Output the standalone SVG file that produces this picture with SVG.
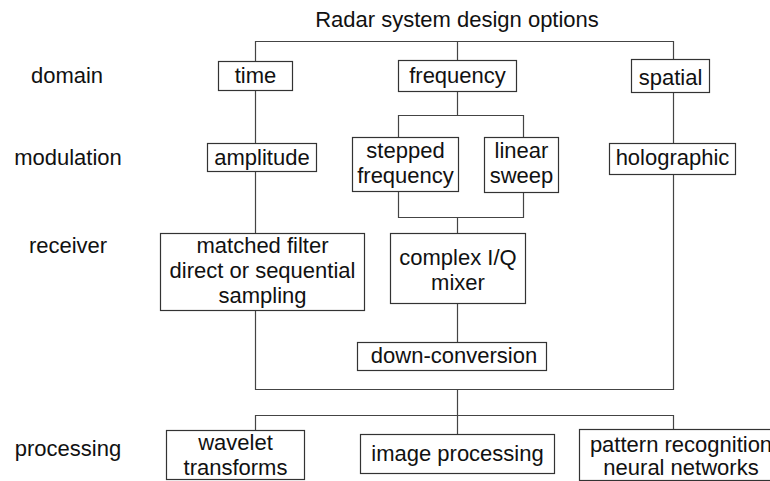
<svg xmlns="http://www.w3.org/2000/svg" width="770" height="481" viewBox="0 0 770 481">
<style>
text{font-family:"Liberation Sans",Arial,sans-serif;font-size:22px;fill:#111;text-anchor:middle}
.box rect{fill:#fff;stroke:#333;stroke-width:1.2}
#connectors path{fill:none;stroke:#444;stroke-width:1.2}
</style>
<rect width="770" height="481" fill="#fff"/>
<g id="connectors">
<path d="M255.5,61 V41.5 H673.5 V59"/>
<path d="M457.5,41.5 V60"/>
<path d="M255.5,90 V143"/>
<path d="M255.5,171 V233"/>
<path d="M255.5,310 V389.5 H673.5 V174"/>
<path d="M673.5,92 V143"/>
<path d="M457.5,91 V115.5"/>
<path d="M398.5,137 V115.5 H523.5 V137"/>
<path d="M398.5,191 V217.5 H523.5 V192"/>
<path d="M457.5,217.5 V233"/>
<path d="M457.5,303 V342"/>
<path d="M457.5,389.5 V434"/>
<path d="M255.5,430 V415.5 H673.5 V429"/>
</g>
<g id="title"><text x="457" y="27">Radar system design options</text></g>
<g id="label-domain"><text x="67" y="83">domain</text></g>
<g id="label-modulation"><text x="68" y="165">modulation</text></g>
<g id="label-receiver"><text x="68" y="253">receiver</text></g>
<g id="label-processing"><text x="68" y="456">processing</text></g>
<g id="time" class="box"><rect x="218.5" y="61.5" width="74" height="29"/><text x="255.5" y="83">time</text></g>
<g id="frequency" class="box"><rect x="398.5" y="60.5" width="118" height="31"/><text x="457.5" y="83">frequency</text></g>
<g id="spatial" class="box"><rect x="631.5" y="59.5" width="78" height="33"/><text x="670.5" y="85">spatial</text></g>
<g id="amplitude" class="box"><rect x="207.5" y="143.5" width="109" height="28"/><text x="262" y="165">amplitude</text></g>
<g id="stepped-frequency" class="box"><rect x="352.5" y="137.5" width="106" height="54"/><text x="405.5" y="158">stepped</text><text x="405.5" y="183">frequency</text></g>
<g id="linear-sweep" class="box"><rect x="484.5" y="137.5" width="74" height="55"/><text x="521.5" y="158">linear</text><text x="521.5" y="183">sweep</text></g>
<g id="holographic" class="box"><rect x="609.5" y="143.5" width="126" height="31"/><text x="672.5" y="165">holographic</text></g>
<g id="matched-filter" class="box"><rect x="160.5" y="233.5" width="204" height="77"/><text x="262.5" y="253">matched filter</text><text x="262.5" y="278">direct or sequential</text><text x="262.5" y="303">sampling</text></g>
<g id="complex-iq" class="box"><rect x="390.5" y="233.5" width="135" height="70"/><text x="458" y="265">complex I/Q</text><text x="458" y="290">mixer</text></g>
<g id="down-conversion" class="box"><rect x="357.5" y="342.5" width="189" height="28"/><text x="454" y="363">down-conversion</text></g>
<g id="wavelet" class="box"><rect x="166.5" y="430.5" width="138" height="49"/><text x="235.5" y="450">wavelet</text><text x="235.5" y="475">transforms</text></g>
<g id="image-processing" class="box"><rect x="360.5" y="434.5" width="194" height="39"/><text x="457.5" y="461">image processing</text></g>
<g id="pattern" class="box"><rect x="579.5" y="429.5" width="204" height="51"/><text x="681" y="452">pattern recognition</text><text x="681" y="475">neural networks</text></g>
</svg>
